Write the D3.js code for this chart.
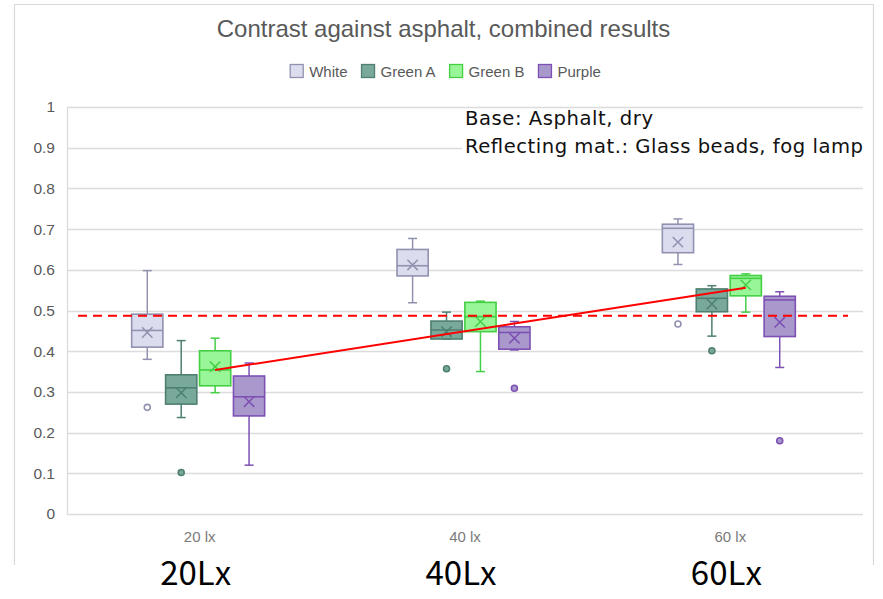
<!DOCTYPE html>
<html>
<head>
<meta charset="utf-8">
<script src="https://cdn.jsdelivr.net/npm/d3@7"></script>
<style>
  html, body { margin: 0; padding: 0; background: #fff; }
  svg { display: block; }
</style>
</head>
<body>
<svg id="chart" width="883" height="599"></svg>
<script>
// Categories and series
const categories = ["20 lx", "40 lx", "60 lx"];
const seriesNames = ["White", "Green A", "Green B", "Purple"];
const bigLabels = ["20Lx", "40Lx", "60Lx"];
const yTicks = [0, 0.1, 0.2, 0.3, 0.4, 0.5, 0.6, 0.7, 0.8, 0.9, 1];

// Box-plot statistics, one row per series (White, Green A, Green B, Purple), one value per category
const whiskerLow = [
  [0.380, 0.519, 0.613],
  [0.237, 0.430, 0.437],
  [0.298, 0.350, 0.496],
  [0.120, 0.403, 0.360]
];
const quartile1 = [
  [0.410, 0.585, 0.642],
  [0.270, 0.430, 0.497],
  [0.315, 0.448, 0.536],
  [0.241, 0.405, 0.436]
];
const medians = [
  [0.451, 0.610, 0.702],
  [0.310, 0.452, 0.530],
  [0.354, 0.485, 0.579],
  [0.288, 0.446, 0.526]
];
const quartile3 = [
  [0.491, 0.650, 0.712],
  [0.342, 0.474, 0.553],
  [0.401, 0.520, 0.586],
  [0.339, 0.460, 0.535]
];
const whiskerHigh = [
  [0.598, 0.677, 0.725],
  [0.426, 0.496, 0.561],
  [0.432, 0.523, 0.590],
  [0.371, 0.473, 0.546]
];
const means = [
  [0.446, 0.612, 0.668],
  [0.298, 0.448, 0.516],
  [0.362, 0.473, 0.563],
  [0.276, 0.432, 0.471]
];
const outliers = [
  [[0.262], [], [0.467]],
  [[0.102], [0.357], [0.401]],
  [[], [], []],
  [[], [0.309], [0.180]]
];

// Reference level and Green B trend between 20 lx and 60 lx
const thresholdValue = 0.487;
const trendSeries = "Green B";
const trendCategories = ["20 lx", "60 lx"];
const trendValues = [0.354, 0.556];

const fills   = ["#dcdcef", "#78a99b", "#98f598", "#a898cc"];
const strokes = ["#9191b0", "#4e7f70", "#45cf45", "#7e50b4"];

const svg = d3.select("#chart");
const plot = { left: 67, right: 863, top: 107, bottom: 514 };

const x = d3.scaleBand().domain(categories).range([plot.left, plot.right]).padding(0);
const xs = d3.scaleBand().domain(seriesNames).range([-68, 65]).paddingInner(0.08);
const y = d3.scaleLinear().domain([0, 1]).range([plot.bottom, plot.top]);
const boxW = xs.bandwidth();
const cx = (cat, s) => x(cat) + x.bandwidth() / 2 + xs(s) + boxW / 2;

// Chart frame (left, top, right sides)
svg.append("path")
  .attr("d", "M14.5,565 L14.5,4.5 L873.5,4.5 L873.5,565")
  .attr("fill", "none").attr("stroke", "#d9d9d9").attr("stroke-width", 1.2);

// Title
svg.append("text")
  .attr("x", 443.5).attr("y", 37)
  .attr("text-anchor", "middle")
  .attr("font-family", "'Liberation Sans', Arial, sans-serif")
  .attr("font-size", 24).attr("fill", "#595959")
  .text("Contrast against asphalt, combined results");

// Legend, centred under the title
const legend = svg.append("g").attr("font-family", "'Liberation Sans', Arial, sans-serif")
  .attr("font-size", 15).attr("fill", "#595959");
const items = legend.selectAll("g").data(seriesNames).join("g");
items.append("rect").attr("width", 13).attr("height", 13).attr("y", 64.5)
  .attr("fill", (d, i) => fills[i]).attr("stroke", (d, i) => strokes[i]).attr("stroke-width", 1.3);
items.append("text").attr("x", 19).attr("y", 77).text(d => d);
let lx = 0;
const widths = [];
items.each(function () { widths.push(19 + this.querySelector("text").getComputedTextLength()); });
const totalW = d3.sum(widths) + 14 * (widths.length - 1);
lx = 445.5 - totalW / 2;
items.attr("transform", (d, i) => {
  const t = `translate(${lx},0)`;
  lx += widths[i] + 14;
  return t;
});

// Gridlines
svg.append("g").selectAll("line").data(yTicks).join("line")
  .attr("x1", plot.left).attr("x2", plot.right)
  .attr("y1", d => Math.round(y(d)) + 0.5).attr("y2", d => Math.round(y(d)) + 0.5)
  .attr("stroke", "#dcdcdc").attr("stroke-width", 1.3);
svg.append("line")
  .attr("x1", plot.left + 0.5).attr("x2", plot.left + 0.5)
  .attr("y1", plot.top).attr("y2", plot.bottom + 1)
  .attr("stroke", "#dcdcdc").attr("stroke-width", 1.3);

// Y axis labels
const yAxis = svg.append("g")
  .attr("transform", `translate(${plot.left - 12},0)`)
  .call(d3.axisLeft(y).tickValues(yTicks).tickSize(0).tickPadding(0).tickFormat(d3.format("~g")));
yAxis.select(".domain").remove();
yAxis.selectAll("text")
  .attr("font-family", "'Liberation Sans', Arial, sans-serif")
  .attr("font-size", 15.5).attr("fill", "#595959");

// X axis labels
const xAxis = svg.append("g")
  .attr("transform", `translate(0,${plot.bottom + 17})`)
  .call(d3.axisBottom(x).tickSize(0).tickPadding(0));
xAxis.select(".domain").remove();
xAxis.selectAll("text")
  .attr("font-family", "'Liberation Sans', Arial, sans-serif")
  .attr("font-size", 15).attr("fill", "#7a7a7a");

// Box plots
const boxes = [];
seriesNames.forEach((s, si) => {
  categories.forEach((c, ci) => {
    boxes.push({ s, si, c, ci,
      lo: whiskerLow[si][ci], q1: quartile1[si][ci], med: medians[si][ci],
      q3: quartile3[si][ci], hi: whiskerHigh[si][ci], mean: means[si][ci],
      out: outliers[si][ci] });
  });
});

const g = svg.append("g");
const bg = g.selectAll("g.box").data(boxes).join("g").attr("class", "box");
const capW = 9;
// whiskers
bg.append("line")
  .attr("x1", d => cx(d.c, d.s)).attr("x2", d => cx(d.c, d.s))
  .attr("y1", d => y(d.hi)).attr("y2", d => y(d.q3))
  .attr("stroke", d => strokes[d.si]).attr("stroke-width", 1.5);
bg.append("line")
  .attr("x1", d => cx(d.c, d.s)).attr("x2", d => cx(d.c, d.s))
  .attr("y1", d => y(d.q1)).attr("y2", d => y(d.lo))
  .attr("stroke", d => strokes[d.si]).attr("stroke-width", 1.5);
bg.append("line")
  .attr("x1", d => cx(d.c, d.s) - capW / 2).attr("x2", d => cx(d.c, d.s) + capW / 2)
  .attr("y1", d => y(d.hi)).attr("y2", d => y(d.hi))
  .attr("stroke", d => strokes[d.si]).attr("stroke-width", 1.5);
bg.append("line")
  .attr("x1", d => cx(d.c, d.s) - capW / 2).attr("x2", d => cx(d.c, d.s) + capW / 2)
  .attr("y1", d => y(d.lo)).attr("y2", d => y(d.lo))
  .attr("stroke", d => strokes[d.si]).attr("stroke-width", 1.5);
// box
bg.append("rect")
  .attr("x", d => cx(d.c, d.s) - boxW / 2).attr("width", boxW)
  .attr("y", d => y(d.q3)).attr("height", d => y(d.q1) - y(d.q3))
  .attr("fill", d => fills[d.si]).attr("stroke", d => strokes[d.si]).attr("stroke-width", 1.6);
// median
bg.append("line")
  .attr("x1", d => cx(d.c, d.s) - boxW / 2).attr("x2", d => cx(d.c, d.s) + boxW / 2)
  .attr("y1", d => y(d.med)).attr("y2", d => y(d.med))
  .attr("stroke", d => strokes[d.si]).attr("stroke-width", 1.6);
// mean marker
const mk = 5.2;
bg.append("path")
  .attr("d", d => {
    const px = cx(d.c, d.s), py = y(d.mean);
    return `M${px - mk},${py - mk}L${px + mk},${py + mk}M${px - mk},${py + mk}L${px + mk},${py - mk}`;
  })
  .attr("stroke", d => strokes[d.si]).attr("stroke-width", 1.5).attr("fill", "none");
// outliers
bg.selectAll("circle").data(d => d.out.map(v => ({ v, d }))).join("circle")
  .attr("cx", o => cx(o.d.c, o.d.s)).attr("cy", o => y(o.v)).attr("r", 3)
  .attr("fill", o => o.d.si === 0 ? "#ffffff" : fills[o.d.si])
  .attr("stroke", o => strokes[o.d.si]).attr("stroke-width", 1.6);

// Threshold line
svg.append("line")
  .attr("x1", plot.left + 11).attr("x2", plot.right - 15)
  .attr("y1", y(thresholdValue)).attr("y2", y(thresholdValue))
  .attr("stroke", "#ff0000").attr("stroke-width", 2).attr("stroke-dasharray", "9,6");

// Trend line for Green B
svg.append("line")
  .attr("x1", cx(trendCategories[0], trendSeries)).attr("y1", y(trendValues[0]))
  .attr("x2", cx(trendCategories[1], trendSeries)).attr("y2", y(trendValues[1]))
  .attr("stroke", "#ff0000").attr("stroke-width", 2);

// Annotation box
svg.append("rect").attr("x", 462).attr("y", 109).attr("width", 408).attr("height", 56).attr("fill", "#fff");
const note = svg.append("g")
  .attr("font-family", "'DejaVu Sans', Verdana, sans-serif")
  .attr("font-size", 19.6).attr("fill", "#111");
note.append("text").attr("x", 465).attr("y", 125).attr("textLength", 188).attr("lengthAdjust", "spacing")
  .text("Base: Asphalt, dry");
note.append("text").attr("x", 465).attr("y", 153).attr("textLength", 398).attr("lengthAdjust", "spacing")
  .text("Reflecting mat.: Glass beads, fog lamp");

// Large condition labels below the axis
svg.append("g").selectAll("text").data(bigLabels).join("text")
  .attr("x", (d, i) => x(categories[i]) + x.bandwidth() / 2 - 4)
  .attr("y", 585)
  .attr("text-anchor", "middle")
  .attr("font-family", "'Noto Sans CJK JP', 'Noto Sans', sans-serif")
  .attr("font-size", 33).attr("fill", "#000")
  .text(d => d);
</script>
</body>
</html>
